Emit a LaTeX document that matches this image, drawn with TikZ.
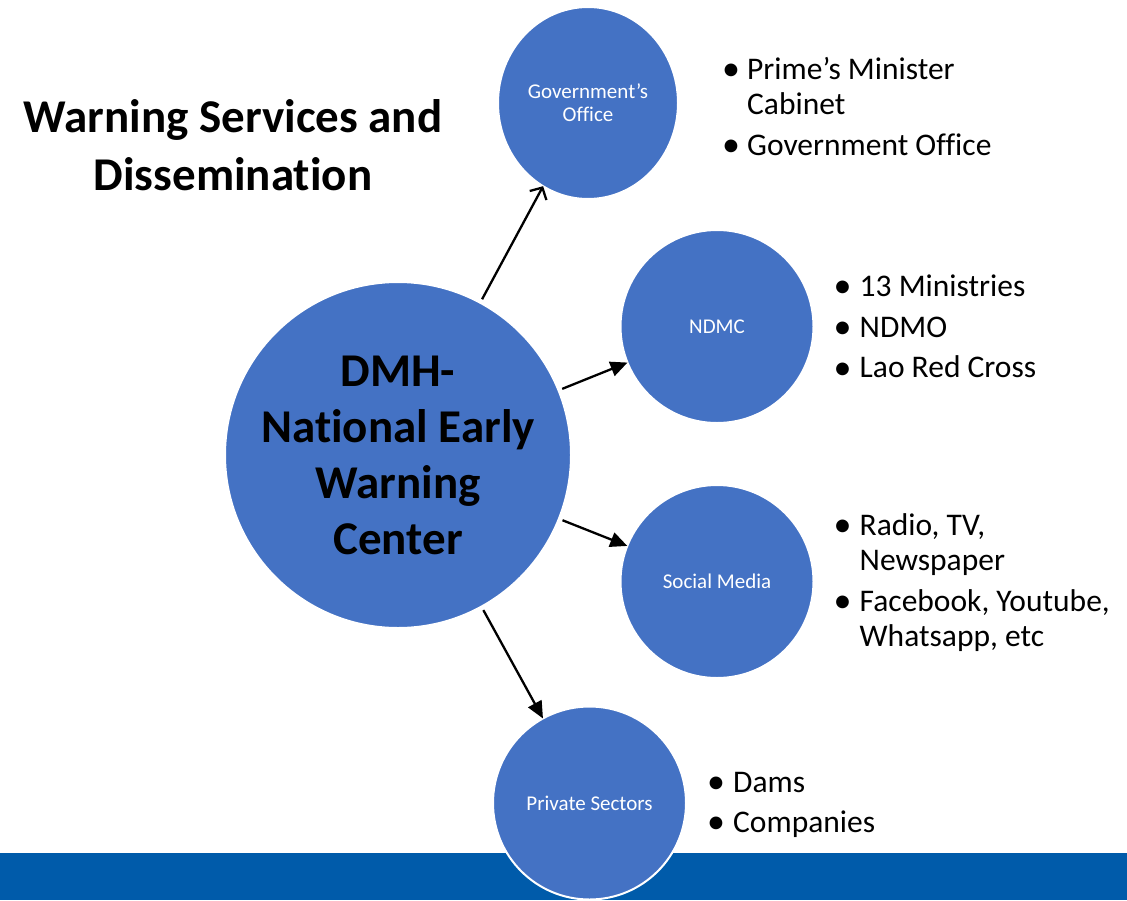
\documentclass[tikz,border=0pt]{standalone}
\usepackage{fontspec}
\setmainfont{Carlito}[Ligatures={NoCommon,NoContextual}, RawFeature={-liga;-clig;-dlig}]
\usetikzlibrary{arrows.meta,shapes.geometric}
\definecolor{nodeblue}{HTML}{4472C4}
\definecolor{barblue}{HTML}{005BAA}
\begin{document}
\begin{tikzpicture}[x=1pt,y=-1pt,
  hub/.style={circle, fill=nodeblue, draw=white, line width=2pt, minimum size=346pt, inner sep=0pt, outer sep=0pt, align=center, font=\fontsize{47}{56}\selectfont\bfseries},
  sat/.style={circle, fill=nodeblue, draw=white, line width=2pt, minimum size=193pt, inner sep=0pt, outer sep=0pt, align=center, text=white, font=\fontsize{21}{23}\selectfont},
  satoval/.style={ellipse, fill=nodeblue, draw=white, line width=2pt, minimum width=180pt, minimum height=192pt, inner sep=0pt, outer sep=0pt, align=center, text=white, font=\fontsize{21}{23}\selectfont},
  conn/.style={line width=2.3pt, shorten <=4pt},
  filledtip/.style={-{Triangle[length=17pt,width=15pt]}},
  opentip/.style={-{Straight Barb[length=9pt,width=19pt,line width=2.3pt]}},
  bul/.style={anchor=base, inner sep=0pt, yshift=-1.5pt, font=\fontsize{36}{36}\selectfont},
  btxt/.style={anchor=base west, inner sep=0pt, align=left, font=\fontsize{31.5}{35}\selectfont},
  ]
\useasboundingbox (0,0) rectangle (1127,900);
\fill[barblue] (0,853) rectangle (1127,900);

\node[anchor=base, align=center, inner sep=0pt, font=\fontsize{47}{58}\selectfont\bfseries] (title) at (233,190) {Warning Services and\\Dissemination};

\node[hub] (dmh) at (398,455) {DMH-\\National Early\\Warning\\Center};
\node[satoval] (gov) at (588,103) {Government’s\\Office};
\node[sat] (ndmc) at (717,326.5) {NDMC};
\node[sat] (social) at (717,581.5) {Social Media};
\node[sat] (private) at (589.5,803) {Private Sectors};

\draw[conn, opentip] (dmh) -- (gov);
\draw[conn, filledtip] (dmh) -- (ndmc);
\draw[conn, filledtip] (dmh) -- (social);
\draw[conn, filledtip] (dmh) -- (private);

% Government's Office bullets
\node[bul] (g1b) at (731,79.3) {•};
\node[btxt] (g1) at (747,114.3) {Prime’s Minister\\Cabinet};
\node[bul] (g2b) at (731,155) {•};
\node[btxt] (g2) at (747,155) {Government Office};

% NDMC bullets
\node[bul] (n1b) at (842.5,296) {•};
\node[btxt] (n1) at (859.5,296) {13 Ministries};
\node[bul] (n2b) at (842.5,337) {•};
\node[btxt] (n2) at (859.5,337) {NDMO};
\node[bul] (n3b) at (842.5,377.5) {•};
\node[btxt] (n3) at (859.5,377.5) {Lao Red Cross};

% Social Media bullets
\node[bul] (s1b) at (842.5,535) {•};
\node[btxt] (s1) at (859.5,570) {Radio, TV,\\Newspaper};
\node[bul] (s2b) at (842.5,611) {•};
\node[btxt] (s2) at (859.5,646) {Facebook, Youtube,\\Whatsapp, etc};

% Private Sectors bullets
\node[bul] (p1b) at (716,792) {•};
\node[btxt] (p1) at (733,792) {Dams};
\node[bul] (p2b) at (716,832) {•};
\node[btxt] (p2) at (733,832) {Companies};
\end{tikzpicture}
\end{document}
